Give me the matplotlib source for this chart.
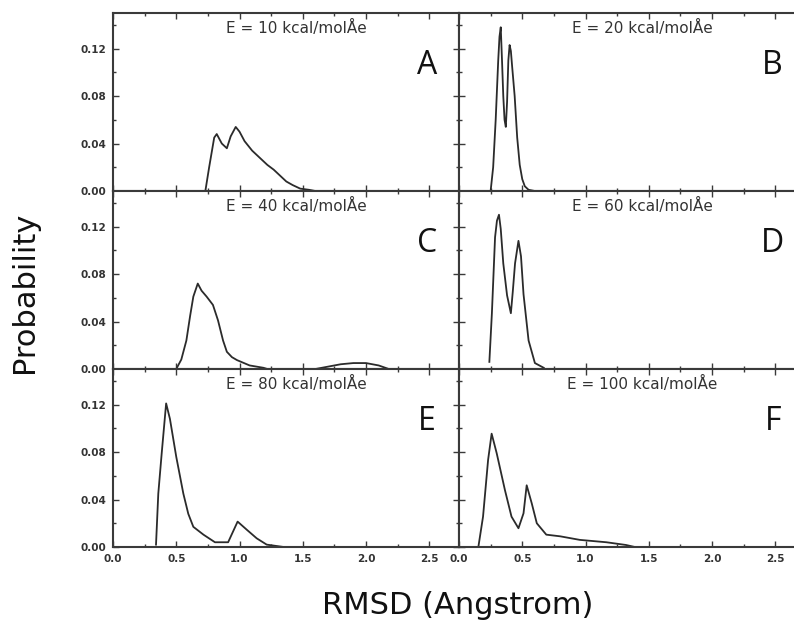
import matplotlib
matplotlib.use('Agg')
import matplotlib.pyplot as plt
from matplotlib.ticker import MultipleLocator, FormatStrFormatter

# RMSD distributions, one per panel
a_x = [0.73, 0.76, 0.80, 0.82, 0.86, 0.90, 0.93, 0.97, 1.00, 1.04, 1.10, 1.16, 1.22, 1.27, 1.32, 1.37, 1.42, 1.48, 1.55, 1.60]
a_y = [0.0, 0.020, 0.045, 0.048, 0.040, 0.036, 0.046, 0.054, 0.050, 0.042, 0.034, 0.028, 0.022, 0.018, 0.013, 0.008, 0.005, 0.002, 0.001, 0.0]

b_x = [0.25, 0.27, 0.29, 0.31, 0.32, 0.33, 0.34, 0.35, 0.36, 0.37, 0.38, 0.39, 0.40, 0.41, 0.42, 0.44, 0.46, 0.48, 0.50, 0.52, 0.55, 0.60]
b_y = [0.0, 0.020, 0.060, 0.110, 0.130, 0.138, 0.110, 0.080, 0.060, 0.054, 0.075, 0.110, 0.123, 0.118, 0.105, 0.080, 0.045, 0.022, 0.010, 0.004, 0.001, 0.0]

c_x = [0.50, 0.54, 0.58, 0.61, 0.635, 0.67, 0.70, 0.74, 0.79, 0.83, 0.87, 0.90, 0.94, 0.98, 1.08, 1.19, 1.22,
       1.60, 1.70, 1.80, 1.90, 2.00, 2.10, 2.18]
c_y = [0.0, 0.008, 0.024, 0.045, 0.061, 0.072, 0.066, 0.061, 0.054, 0.041, 0.024, 0.0145, 0.010, 0.0075, 0.003, 0.001, 0.0,
       0.0, 0.002, 0.004, 0.005, 0.005, 0.003, 0.0]

d_x = [0.24, 0.26, 0.285, 0.30, 0.316, 0.33, 0.35, 0.38, 0.41, 0.425, 0.443, 0.47, 0.49, 0.51, 0.55, 0.60, 0.67]
d_y = [0.006, 0.047, 0.111, 0.125, 0.130, 0.118, 0.089, 0.062, 0.047, 0.065, 0.089, 0.108, 0.095, 0.063, 0.024, 0.005, 0.001]

e_x = [0.34, 0.358, 0.385, 0.42, 0.45, 0.50, 0.556, 0.595, 0.635, 0.715, 0.806, 0.91, 0.985, 1.057, 1.136, 1.215, 1.35]
e_y = [0.002, 0.045, 0.079, 0.121, 0.108, 0.076, 0.045, 0.028, 0.017, 0.0104, 0.004, 0.004, 0.0214, 0.0146, 0.0073, 0.002, 0.0]

f_x = [0.153, 0.19, 0.23, 0.258, 0.298, 0.363, 0.415, 0.47, 0.51, 0.535, 0.575, 0.615, 0.69, 0.80, 0.955, 1.165, 1.32, 1.39]
f_y = [0.0, 0.0256, 0.0734, 0.0955, 0.079, 0.048, 0.0256, 0.0158, 0.0284, 0.052, 0.0368, 0.020, 0.0104, 0.009, 0.006, 0.004, 0.0017, 0.0]

energies = [10, 20, 40, 60, 80, 100]
letters = ['A', 'B', 'C', 'D', 'E', 'F']
series = [(a_x, a_y), (b_x, b_y), (c_x, c_y), (d_x, d_y), (e_x, e_y), (f_x, f_y)]

W, H = 794, 632
fig = plt.figure(figsize=(W / 100, H / 100), dpi=100)

col_left = [113, 459]
col_w = 346
row_top = [13, 191, 369]
row_h = 178

line_col = '#2b2b2b'
frame_col = '#3a3a3a'

for i, (xs, ys) in enumerate(series):
    r, c = divmod(i, 2)
    left = col_left[c] / W
    bottom = 1 - (row_top[r] + row_h) / H
    ax = fig.add_axes([left, bottom, col_w / W, row_h / H])
    ax.plot(xs, ys, color=line_col, lw=1.3)
    ax.set_xlim(0, 2.735)
    ax.set_ylim(0, 0.15)

    ax.xaxis.set_major_locator(MultipleLocator(0.5))
    ax.xaxis.set_minor_locator(MultipleLocator(0.25))
    ax.yaxis.set_major_locator(MultipleLocator(0.04))
    ax.yaxis.set_minor_locator(MultipleLocator(0.02))
    ax.xaxis.set_major_formatter(FormatStrFormatter('%.1f'))
    ax.yaxis.set_major_formatter(FormatStrFormatter('%.2f'))
    ax.tick_params(which='both', direction='in', top=True, right=True,
                   color=frame_col, width=1.0)
    ax.tick_params(which='major', length=4, labelsize=7.5, pad=5)
    ax.tick_params(which='minor', length=2.5)
    for lab in ax.get_xticklabels() + ax.get_yticklabels():
        lab.set_fontweight('bold')
        lab.set_color('#333333')
    for s in ax.spines.values():
        s.set_color(frame_col)
        s.set_linewidth(1.5)

    if c == 1:
        ax.tick_params(labelleft=False)
    if r < 2:
        ax.tick_params(labelbottom=False)

    ax.text(1.45, 0.137, f'E = {energies[i]} kcal/molÅe', ha='center', va='center',
            fontsize=11, color='#333333')
    ax.text(2.48, 0.106, letters[i], ha='center', va='center',
            fontsize=23, family='Open Sans', color='#111111')

fig.text(25 / W, 1 - 292 / H, 'Probability', rotation=90, ha='center', va='center',
         fontsize=22, color='#111111')
fig.text(458 / W, 1 - 605 / H, 'RMSD (Angstrom)', ha='center', va='center',
         fontsize=22, color='#111111')

fig.savefig('out.png', dpi=100)
